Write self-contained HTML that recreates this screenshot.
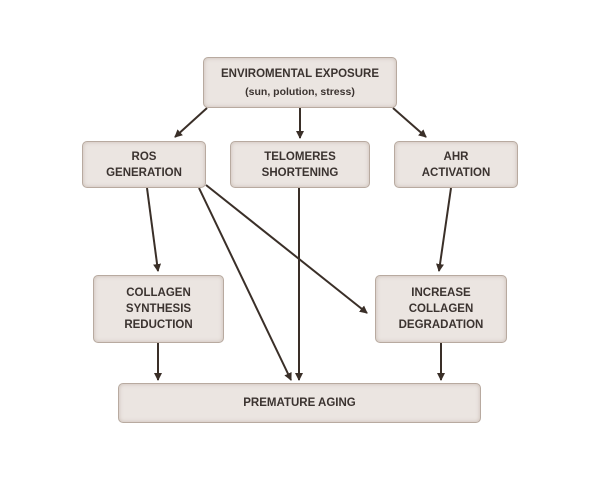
<!DOCTYPE html>
<html><head><style>
body{margin:0;width:600px;height:480px;background:#fff;position:relative;overflow:hidden;font-family:"Liberation Sans",sans-serif}
.b{position:absolute;box-sizing:border-box;background:#ebe5e1;border:1.5px solid #b8aaa0;border-radius:5px;box-shadow:inset 0 0 4px #c9bdb4;display:flex;align-items:center;justify-content:center;text-align:center;color:#3b3330;font-weight:bold;font-size:11.5px;line-height:16px}
svg{position:absolute;left:0;top:0}
</style></head><body>
<svg width="600" height="480"><defs><marker id="a" markerWidth="8" markerHeight="8" refX="7" refY="4" orient="auto" markerUnits="userSpaceOnUse"><path d="M0,0L8,4L0,8z" fill="#3a2f28"/></marker></defs>
<g stroke="#3a2f28" stroke-width="2" fill="none" marker-end="url(#a)">
<line x1="207" y1="108" x2="175" y2="137"/>
<line x1="300" y1="108" x2="300" y2="138"/>
<line x1="393" y1="108" x2="426" y2="137"/>
<line x1="147" y1="188" x2="158" y2="271"/>
<line x1="199" y1="188" x2="291" y2="380"/>
<line x1="206" y1="185" x2="367" y2="313"/>
<line x1="299" y1="188" x2="299" y2="380"/>
<line x1="451" y1="188" x2="439" y2="271"/>
<line x1="158" y1="343" x2="158" y2="380"/>
<line x1="441" y1="343" x2="441" y2="380"/>
</g></svg>
<div class="b" style="left:203px;top:57px;width:194px;height:51px;line-height:18px"><div>ENVIROMENTAL EXPOSURE<br><span style="font-size:10.5px">(sun, polution, stress)</span></div></div>
<div class="b" style="left:82px;top:141px;width:124px;height:47px"><div>ROS<br>GENERATION</div></div>
<div class="b" style="left:230px;top:141px;width:140px;height:47px"><div>TELOMERES<br>SHORTENING</div></div>
<div class="b" style="left:394px;top:141px;width:124px;height:47px"><div>AHR<br>ACTIVATION</div></div>
<div class="b" style="left:93px;top:275px;width:131px;height:68px"><div>COLLAGEN<br>SYNTHESIS<br>REDUCTION</div></div>
<div class="b" style="left:375px;top:275px;width:132px;height:68px"><div>INCREASE<br>COLLAGEN<br>DEGRADATION</div></div>
<div class="b" style="left:118px;top:383px;width:363px;height:40px"><div>PREMATURE AGING</div></div>
</body></html>
